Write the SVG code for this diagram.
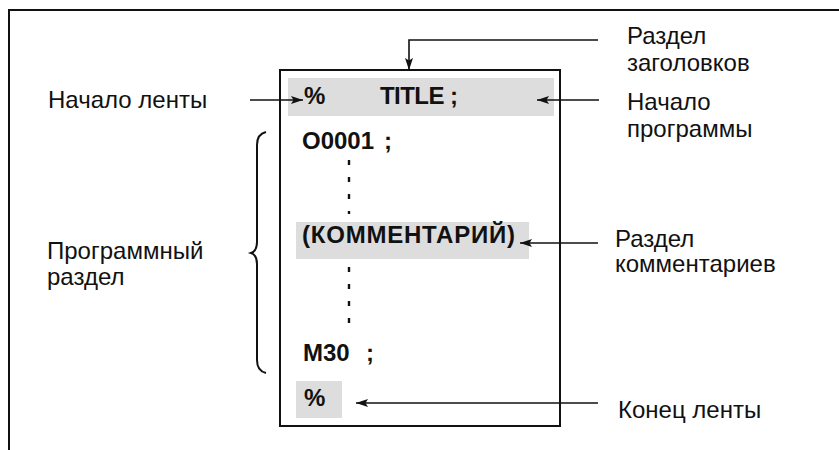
<svg xmlns="http://www.w3.org/2000/svg" width="839" height="450" viewBox="0 0 839 450">
  <style>
    .lbl { font-family: "Liberation Sans", Arial, sans-serif; font-size: 24px; fill: #111; }
    .code { font-family: "Liberation Sans", Arial, sans-serif; font-size: 24px; font-weight: bold; fill: #111; }
    .band { fill: #dddddd; }
    .frame { fill: none; stroke: #111; stroke-width: 2; }
    .conn { fill: none; stroke: #111; stroke-width: 1.6; }
    .dots { fill: none; stroke: #111; stroke-width: 2.4; stroke-dasharray: 5 12; }
  </style>
  <defs>
    <marker id="arr" viewBox="0 0 12 8" refX="12" refY="4" markerWidth="12" markerHeight="8" markerUnits="userSpaceOnUse" orient="auto">
      <path d="M0,0 L12,4 L0,8 L2.5,4 Z" fill="#111"/>
    </marker>
  </defs>

  <rect width="839" height="450" fill="#ffffff"/>

  <!-- outer frame -->
  <path class="frame" d="M9,450 L9,10 L839,10"/>

  <!-- program box -->
  <g id="program-box">
    <rect class="frame" x="280" y="70" width="280" height="356"/>
    <rect class="band" x="288" y="78" width="266" height="38"/>
    <text class="code" x="304" y="104">%</text>
    <text class="code" x="380" y="104" textLength="78">TITLE ;</text>
    <text class="code" y="149"><tspan x="302">O0001</tspan><tspan x="384">;</tspan></text>
    <rect class="band" x="296" y="222" width="233" height="37"/>
    <text class="code" x="302" y="243" textLength="213">(КОММЕНТАРИЙ)</text>
    <text class="code" y="361"><tspan x="303">M30</tspan><tspan x="366">;</tspan></text>
    <rect class="band" x="296" y="381" width="46" height="37"/>
    <text class="code" x="304" y="406">%</text>
    <path class="dots" d="M349,160 L349,214"/>
    <path class="dots" d="M349,267 L349,327"/>
  </g>

  <g id="brace">
    <path class="frame" d="M266,132 Q257,134 257,145 L257,242 Q257,251 251,253 Q257,255 257,264 L257,360 Q257,371 266,373"/>
  </g>

  <g id="label-tape-start">
    <text class="lbl" x="48" y="108">Начало ленты</text>
  </g>
  <g id="label-program-section">
    <text class="lbl" x="47" y="259">Программный</text>
    <text class="lbl" x="47" y="285">раздел</text>
  </g>
  <g id="label-title-section">
    <text class="lbl" x="627" y="44">Раздел</text>
    <text class="lbl" x="627" y="71">заголовков</text>
  </g>
  <g id="label-program-start">
    <text class="lbl" x="627" y="110">Начало</text>
    <text class="lbl" x="627" y="137">программы</text>
  </g>
  <g id="label-comment-section">
    <text class="lbl" x="615" y="247">Раздел</text>
    <text class="lbl" x="615" y="272">комментариев</text>
  </g>
  <g id="label-tape-end">
    <text class="lbl" x="618" y="418">Конец ленты</text>
  </g>

  <g id="connectors">
    <path class="conn" d="M598,40 L409,40 L409,70" marker-end="url(#arr)"/>
    <path class="conn" d="M250,100 L303,100" marker-end="url(#arr)"/>
    <path class="conn" d="M599,100 L537,100" marker-end="url(#arr)"/>
    <path class="conn" d="M598,243 L520,243" marker-end="url(#arr)"/>
    <path class="conn" d="M598,403 L356,403" marker-end="url(#arr)"/>
  </g>
</svg>
